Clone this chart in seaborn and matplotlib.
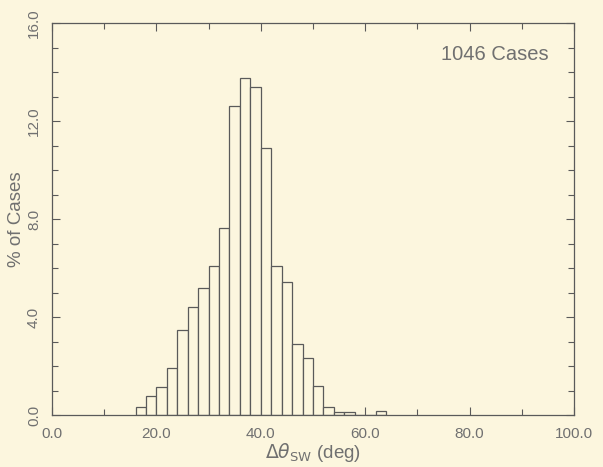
import numpy as np
import pandas as pd
import matplotlib
matplotlib.use("Agg")
import matplotlib.pyplot as plt
from matplotlib.ticker import MultipleLocator
import seaborn as sns

# Data (bin width 2 deg)
bin_left = [16, 18, 20, 22, 24, 26, 28, 30, 32, 34, 36, 38, 40, 42, 44,
            46, 48, 50, 52, 54, 56, 58, 60, 62]
pct_cases = [0.31, 0.79, 1.16, 1.90, 3.47, 4.39, 5.17, 6.10, 7.65, 12.63,
             13.77, 13.40, 10.88, 6.10, 5.44, 2.88, 2.34, 1.18, 0.34, 0.14,
             0.14, 0.0, 0.0, 0.17]
bin_width = 2
x_ticks = [0, 20, 40, 60, 80, 100]
y_ticks = [0, 4, 8, 12, 16]
annotation = "1046 Cases"

bg = "#fcf6de"
ink = "#5a5a5a"
txt = "#707070"

sns.set_theme(style="ticks")
plt.rcParams['font.family'] = ['Liberation Sans', 'DejaVu Sans']

df = pd.DataFrame({"center": np.array(bin_left) + bin_width / 2, "pct": pct_cases})

fig = plt.figure(figsize=(6.03, 4.67), dpi=100, facecolor=bg)
ax = fig.add_axes([52 / 603, 1 - 415 / 467, (574 - 52) / 603, (415 - 23) / 467])
ax.set_facecolor(bg)

sns.histplot(data=df, x="center", weights="pct", binwidth=bin_width,
             binrange=(bin_left[0], bin_left[-1] + bin_width), ax=ax,
             color=bg, edgecolor=ink, linewidth=0.9, alpha=1.0)

ax.set_xlim(0, 100)
ax.set_ylim(0, 16)
ax.set_xticks(x_ticks)
ax.set_xticklabels([f"{v:.1f}" for v in x_ticks])
ax.set_yticks(y_ticks)
ax.set_yticklabels([f"{v:.1f}" for v in y_ticks], rotation=90, va="center")
ax.xaxis.set_minor_locator(MultipleLocator(10))
ax.yaxis.set_minor_locator(MultipleLocator(1))
ax.tick_params(which="both", direction="in", top=True, right=True, colors=ink,
               labelcolor=txt, labelsize=11, width=0.8)
ax.tick_params(which="major", length=6)
ax.tick_params(which="minor", length=4)
ax.tick_params(axis="x", pad=9)
ax.tick_params(axis="y", pad=8)
for s in ax.spines.values():
    s.set_color(ink)
    s.set_linewidth(0.9)

ax.set_xlabel(r"$\Delta\theta_{\mathrm{SW}}$ (deg)", color=txt, fontsize=13.5, labelpad=0)
ax.set_ylabel("% of Cases", color=txt, fontsize=13.5, labelpad=1)
ax.text(84.8, 14.7, annotation, ha="center", va="center", color=txt, fontsize=14.5)

fig.savefig("out.png", dpi=100, facecolor=bg)
